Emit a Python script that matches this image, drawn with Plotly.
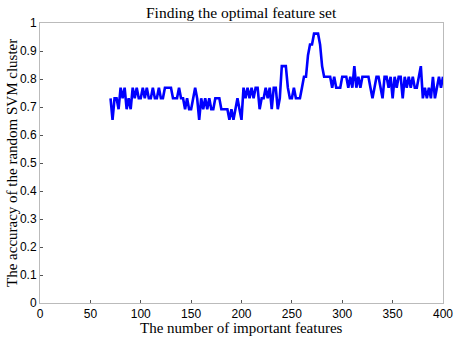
import plotly.graph_objects as go

n_features = list(range(70, 402, 2))
accuracy = [
    # 70-88
    .731, .654, .731, .731, .692, .769, .731, .769, .692, .731,
    # 90-108
    .692, .769, .731, .769, .731, .731, .769, .731, .769, .731,
    # 110-128
    .731, .769, .731, .731, .769, .731, .731, .769, .769, .769,
    # 130-148
    .769, .731, .731, .731, .769, .731, .731, .692, .731, .692,
    # 150-168
    .692, .731, .769, .731, .654, .731, .692, .731, .692, .731,
    # 170-188
    .692, .692, .731, .731, .731, .692, .692, .692, .692, .654,
    # 190-208
    .692, .654, .692, .731, .692, .654, .769, .731, .769, .731,
    # 210-228
    .769, .731, .769, .769, .692, .731, .731, .769, .731, .769,
    # 230-248
    .692, .769, .769, .692, .731, .846, .846, .846, .769, .731,
    # 250-268
    .731, .769, .731, .731, .731, .769, .808, .808, .885, .923,
    # 270-288
    .923, .962, .962, .962, .923, .846, .808, .808, .808, .808,
    # 290-308
    .769, .808, .769, .769, .769, .808, .808, .808, .769, .808,
    # 310-328
    .769, .846, .769, .808, .769, .808, .808, .808, .808, .769,
    # 330-348
    .731, .769, .808, .808, .769, .731, .808, .808, .769, .808,
    # 350-368
    .731, .808, .769, .808, .808, .731, .808, .769, .808, .769,
    # 370-388
    .808, .769, .769, .808, .846, .731, .769, .731, .769, .731,
    # 390-400
    .808, .731, .769, .808, .769, .808,
]

x_ticks = [0, 50, 100, 150, 200, 250, 300, 350, 400]
y_ticks = [0, 0.1, 0.2, 0.3, 0.4, 0.5, 0.6, 0.7, 0.8, 0.9, 1]
y_tick_labels = ["0", "0.1", "0.2", "0.3", "0.4", "0.5", "0.6", "0.7", "0.8", "0.9", "1"]

fig = go.Figure()
fig.add_trace(go.Scatter(
    x=n_features, y=accuracy, mode="lines",
    line=dict(color="#0000ff", width=2.6),
    showlegend=False,
))

axis_common = dict(
    showgrid=False, zeroline=False, automargin=False,
    showline=True, linecolor="#bbbbbb", linewidth=1, mirror=True,
    ticks="inside", ticklen=3, tickcolor="#555555", tickwidth=1,
    tickfont=dict(family="Liberation Sans, Arial", size=12, color="#000000"),
)

fig.update_layout(
    width=454, height=337,
    margin=dict(l=40, r=11, t=23, b=34),
    paper_bgcolor="white", plot_bgcolor="white",
    xaxis=dict(range=[0, 400], tickvals=x_ticks, ticklabelstandoff=0, **axis_common),
    yaxis=dict(range=[0, 1], tickvals=y_ticks, ticktext=y_tick_labels, **axis_common),
    annotations=[
        dict(text="Finding the optimal feature set", xref="paper", yref="paper",
             x=0.5, y=1, yshift=11, xanchor="center", yanchor="middle", showarrow=False,
             font=dict(family="Liberation Serif, Times New Roman", size=15.5, color="#000")),
        dict(text="The number of important features", xref="paper", yref="paper",
             x=0.5, y=0, yshift=-25, xanchor="center", yanchor="middle", showarrow=False,
             font=dict(family="Liberation Serif, Times New Roman", size=15, color="#000")),
        dict(text="The accuracy of the random SVM cluster", xref="paper", yref="paper",
             x=0, y=0.5, xshift=-28, xanchor="center", yanchor="middle", textangle=-90,
             showarrow=False,
             font=dict(family="Liberation Serif, Times New Roman", size=15, color="#000")),
    ],
)

fig.write_html("out.html", config={"displayModeBar": False},
               post_script="document.body.style.margin='0';")
